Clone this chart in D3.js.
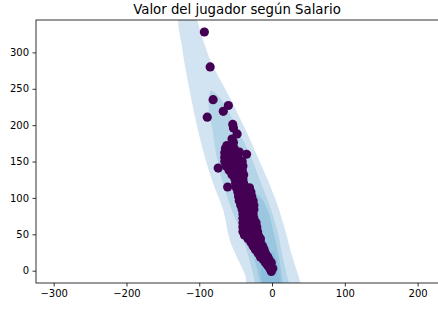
<!DOCTYPE html>
<html>
<head>
<meta charset="utf-8">
<script src="https://cdn.jsdelivr.net/npm/d3@7"></script>
<style>
  body { margin: 0; background: #fff; }
  svg { display: block; font-family: "DejaVu Sans", sans-serif; }
</style>
</head>
<body>
<svg width="438" height="311"></svg>
<script>
var title = 'Valor del jugador según Salario';
var xTicks = [-300, -200, -100, 0, 100, 200];
var yTicks = [0, 50, 100, 150, 200, 250, 300];

// density bands (x, y in data units)
var level1 = [[-127,351],[-123,303],[-115,257],[-106,212],[-95,166],[-81,120],[-67,83],[-58,42],[-37,-6],[-32,-24],
  [40,-24],[38,-13],[27,22],[18,56],[5,97],[-6,125],[-18,152],[-30,180],[-43,207],[-51,224],[-65,251],[-83,285],[-95,317],[-108,351]];
var level2 = [[-84,247],[-87,222],[-82,195],[-78,167],[-69,125],[-55,83],[-44,56],[-33,22],[-24,-13],[-22,-24],
  [25,-24],[22,-13],[14,22],[7,56],[-6,97],[-17,125],[-30,159],[-47,193],[-61,221],[-74,240]];
var level3 = [[-44,100],[-40,77],[-33,42],[-24,15],[-17,-13],[-15,-24],
  [15,-24],[14,-13],[10,15],[3,49],[-6,83],[-19,104],[-33,108]];
var level4 = [[-13,14],[-10,-24],[9,-24],[8,6],[1,26]];
var levelColors = ['#d2e3f1', '#b4d4e8', '#9ac6e0', '#8cbfdd'];

// players: [valor, salario]
var outliers = [[-93,328],[-85,280],[-81,235],[-60,227],[-67,219],[-89,211],[-54,201],[-53,196],[-48,188],
  [-55,181],[-53,176],[-35,160],[-45,163],[-74,141],[-61,115]];
var cluster = [
  [-1,-1],[-3,3],[1,3],[-6,7],[-2,7],[-9,11],[-5,11],[-1,11],[-12,15],[-8,15],[-4,15],
  [-16,19],[-11,19],[-6,19],[-19,24],[-14,24],[-9,24],[-23,29],[-17,29],[-11,29],
  [-26,34],[-20,34],[-13,34],[-29,39],[-23,39],[-16,39],[-33,44],[-27,44],[-21,44],[-16,44],
  [-38,49],[-32,49],[-25,49],[-19,49],[-40,54],[-34,54],[-27,54],[-20,54],[-40,60],[-34,60],[-28,60],[-21,60],
  [-40,66],[-34,66],[-28,66],[-22,66],[-40,72],[-34,72],[-28,72],[-25,72],[-40,78],[-34,78],[-28,78],[-26,78],
  [-41,84],[-35,84],[-29,84],[-25,84],[-43,90],[-37,90],[-31,90],[-25,90],[-45,96],[-39,96],[-33,96],[-26,96],
  [-46,102],[-40,102],[-34,102],[-28,102],[-47,108],[-41,108],[-35,108],[-29,108],[-49,114],[-43,114],[-37,114],[-31,114],
  [-50,120],[-44,120],[-39,120],[-51,126],[-46,126],[-40,126],[-55,132],[-49,132],[-43,132],[-39,132],
  [-59,138],[-53,138],[-47,138],[-41,138],[-63,144],[-57,144],[-51,144],[-45,144],[-40,144],
  [-65,150],[-59,150],[-53,150],[-47,150],[-41,150],[-65,156],[-59,156],[-53,156],[-47,156],
  [-65,162],[-59,162],[-53,162],[-64,168],[-58,168],[-52,168],[-62,172],[-56,172]
];

var svg = d3.select('svg');
var margin = {t: 20, r: 0, b: 28, l: 36};
var width = +svg.attr('width') - margin.l - margin.r;
var height = +svg.attr('height') - margin.t - margin.b;

var x = d3.scaleLinear().domain([-324.3, 228]).range([0, width]);
var y = d3.scaleLinear().domain([-16.9, 344.5]).range([height, 0]);

svg.append('text')
  .attr('x', margin.l + width / 2)
  .attr('y', 14)
  .attr('text-anchor', 'middle')
  .style('font-size', '13.3px')
  .text(title);

var g = svg.append('g').attr('transform', 'translate(' + margin.l + ',' + margin.t + ')');

svg.append('defs').append('clipPath').attr('id', 'clip')
  .append('rect').attr('width', width).attr('height', height);

var plot = g.append('g').attr('clip-path', 'url(#clip)');

var area = d3.line().x(d => x(d[0])).y(d => y(d[1])).curve(d3.curveCatmullRomClosed);

plot.selectAll('path.band')
  .data([level1, level2, level3, level4])
  .join('path')
  .attr('class', 'band')
  .attr('d', area)
  .attr('fill', (d, i) => levelColors[i]);

plot.selectAll('circle')
  .data(cluster.concat(outliers))
  .join('circle')
  .attr('cx', d => x(d[0]))
  .attr('cy', d => y(d[1]))
  .attr('r', 4.6)
  .attr('fill', '#440154');

var fmt = d => d < 0 ? '\u2212' + Math.abs(d) : '' + d;

var xAxis = g.append('g')
  .attr('transform', 'translate(0,' + height + ')')
  .call(d3.axisBottom(x).tickValues(xTicks).tickFormat(fmt).tickSizeOuter(0).tickSize(3.5).tickPadding(3.5));
var yAxis = g.append('g')
  .call(d3.axisLeft(y).tickValues(yTicks).tickFormat(fmt).tickSizeOuter(0).tickSize(3.5).tickPadding(3.5));

[xAxis, yAxis].forEach(function(a) {
  a.selectAll('text').style('font-size', '10px').attr('fill', '#000').style('font-family', '"DejaVu Sans", sans-serif');
  a.selectAll('line').attr('stroke', '#000').attr('stroke-width', 0.8);
  a.select('.domain').remove();
});

g.append('rect')
  .attr('width', width + 2)
  .attr('height', height)
  .attr('fill', 'none')
  .attr('stroke', '#000')
  .attr('stroke-width', 0.8);
</script>
</body>
</html>
